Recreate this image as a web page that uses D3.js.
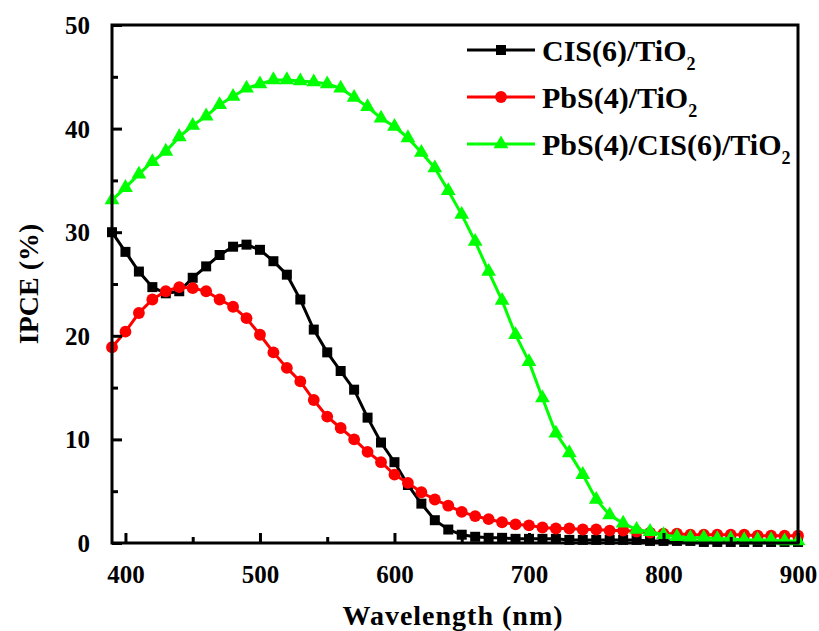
<!DOCTYPE html>
<html>
<head>
<meta charset="utf-8">
<script src="https://cdn.jsdelivr.net/npm/d3@7"></script>
<style>
  body { margin: 0; background: #fff; }
  svg { display: block; font-family: "Liberation Serif", "Times New Roman", serif; font-weight: bold; }
</style>
</head>
<body>
<div id="chart"></div>
<script>
const WAVELENGTHS = [390, 400, 410, 420, 430, 440, 450, 460, 470, 480, 490, 500, 510, 520, 530, 540,
  550, 560, 570, 580, 590, 600, 610, 620, 630, 640, 650, 660, 670, 680, 690, 700, 710, 720, 730,
  740, 750, 760, 770, 780, 790, 800, 810, 820, 830, 840, 850, 860, 870, 880, 890, 900];

const CIS = [30.0, 28.1, 26.2, 24.7, 24.1, 24.3, 25.6, 26.7, 27.8, 28.6, 28.8, 28.3, 27.2, 25.9, 23.5, 20.6,
  18.4, 16.6, 14.8, 12.1, 9.7, 7.8, 5.6, 3.8, 2.2, 1.3, 0.8, 0.6, 0.5, 0.5, 0.4, 0.4, 0.4, 0.4, 0.3,
  0.3, 0.3, 0.3, 0.3, 0.3, 0.2, 0.2, 0.2, 0.2, 0.1, 0.1, 0.1, 0.1, 0.1, 0.1, 0.1, 0.1];

const PBS = [18.9, 20.4, 22.2, 23.5, 24.3, 24.7, 24.6, 24.3, 23.5, 22.8, 21.7, 20.1, 18.4, 16.9, 15.6, 13.8,
  12.2, 11.1, 10.0, 8.8, 7.8, 6.6, 5.8, 4.9, 4.2, 3.6, 3.0, 2.6, 2.3, 2.0, 1.8, 1.7, 1.5, 1.4, 1.4,
  1.3, 1.3, 1.2, 1.2, 1.1, 1.0, 0.9, 0.9, 0.8, 0.8, 0.8, 0.8, 0.8, 0.7, 0.7, 0.7, 0.7];

const PBS_CIS = [33.1, 34.3, 35.6, 36.8, 37.8, 39.2, 40.3, 41.2, 42.3, 43.1, 43.9, 44.3, 44.7, 44.7, 44.6, 44.5,
  44.3, 43.9, 43.0, 42.1, 41.0, 40.2, 39.1, 37.7, 36.2, 34.0, 31.7, 29.1, 26.2, 23.4, 20.1, 17.5, 14.0, 10.6, 8.7,
  6.6, 4.2, 2.7, 1.9, 1.3, 1.1, 0.8, 0.6, 0.5, 0.5, 0.4, 0.4, 0.3, 0.3, 0.3, 0.2, 0.2];

const X_TICKS = [400, 500, 600, 700, 800, 900];
const X_MINOR = [450, 550, 650, 750, 850];
const Y_TICKS = [0, 10, 20, 30, 40, 50];
const Y_MINOR = [5, 15, 25, 35, 45];

const SERIES = [
  { name: 'CIS(6)/TiO', values: CIS, color: '#000000', shape: 'square' },
  { name: 'PbS(4)/TiO', values: PBS, color: '#ff0000', shape: 'circle' },
  { name: 'PbS(4)/CIS(6)/TiO', values: PBS_CIS, color: '#00ff00', shape: 'triangle' },
];

const W = 819, H = 631;
const margin = { top: 25, right: 21, bottom: 88, left: 112 };
const iw = W - margin.left - margin.right;
const ih = H - margin.top - margin.bottom;

const x = d3.scaleLinear().domain([390, 900]).range([0, iw]);
const y = d3.scaleLinear().domain([0, 50]).range([ih, 0]);

const svg = d3.select('#chart').append('svg')
  .attr('width', W).attr('height', H);

const g = svg.append('g').attr('transform', `translate(${margin.left},${margin.top})`);

const symbols = {
  square: d3.symbol(d3.symbolSquare, 100),
  circle: d3.symbol(d3.symbolCircle, 110),
  triangle: d3.symbol(d3.symbolTriangle, 95),
};

// series: black, then red, then green on top
const line = d3.line().x(d => x(d[0])).y(d => y(d[1]));
SERIES.forEach(s => {
  const pts = WAVELENGTHS.map((w, i) => [w, s.values[i]]);
  g.append('path')
    .datum(pts)
    .attr('d', line)
    .attr('fill', 'none')
    .attr('stroke', s.color)
    .attr('stroke-width', 3);
  g.append('g').selectAll('path')
    .data(pts)
    .join('path')
    .attr('transform', d => `translate(${x(d[0])},${y(d[1])})`)
    .attr('d', symbols[s.shape])
    .attr('fill', s.color);
});

// axes with inward ticks
const xAxis = g.append('g').attr('transform', `translate(0,${ih})`)
  .call(d3.axisBottom(x).tickValues(X_TICKS).tickSizeInner(-10).tickSizeOuter(0).tickPadding(22));
const xMinor = g.append('g').attr('transform', `translate(0,${ih})`)
  .call(d3.axisBottom(x).tickValues(X_MINOR).tickSizeInner(-6).tickSizeOuter(0).tickFormat(''));
const yAxis = g.append('g')
  .call(d3.axisLeft(y).tickValues(Y_TICKS).tickSizeInner(-10).tickSizeOuter(0).tickPadding(22));
const yMinor = g.append('g')
  .call(d3.axisLeft(y).tickValues(Y_MINOR).tickSizeInner(-6).tickSizeOuter(0).tickFormat(''));

[xAxis, xMinor, yAxis, yMinor].forEach(a => {
  a.select('.domain').remove();
  a.selectAll('line').attr('stroke', '#000').attr('stroke-width', 3);
  a.selectAll('text')
    .attr('fill', '#000')
    .attr('font-family', '"Liberation Serif", "Times New Roman", serif')
    .attr('font-weight', 'bold')
    .attr('font-size', 25);
});
yAxis.selectAll('text').attr('dy', '0.34em');

// frame
g.append('rect')
  .attr('width', iw).attr('height', ih)
  .attr('fill', 'none')
  .attr('stroke', '#000')
  .attr('stroke-width', 3);

// axis titles
svg.append('text')
  .attr('x', margin.left + iw / 2 - 2).attr('y', 625)
  .attr('text-anchor', 'middle')
  .attr('font-size', 28)
  .attr('letter-spacing', 1)
  .text('Wavelength (nm)');

svg.append('text')
  .attr('transform', `translate(38,${margin.top + ih / 2}) rotate(-90)`)
  .attr('text-anchor', 'middle')
  .attr('font-size', 28)
  .text('IPCE (%)');

// legend
const legend = g.append('g').attr('transform', `translate(${467 - margin.left},${50 - margin.top})`);
SERIES.forEach((s, i) => {
  const row = legend.append('g').attr('transform', `translate(0,${i * 47})`);
  row.append('line')
    .attr('x1', 0).attr('x2', 68)
    .attr('stroke', s.color).attr('stroke-width', 3);
  row.append('path')
    .attr('transform', 'translate(34,0)')
    .attr('d', symbols[s.shape])
    .attr('fill', s.color);
  const t = row.append('text')
    .attr('x', 75).attr('y', 11)
    .attr('font-size', 30)
    .attr('fill', '#000')
    .text(s.name);
  t.append('tspan')
    .attr('font-size', 18)
    .attr('dy', 9)
    .text('2');
});
</script>
</body>
</html>
